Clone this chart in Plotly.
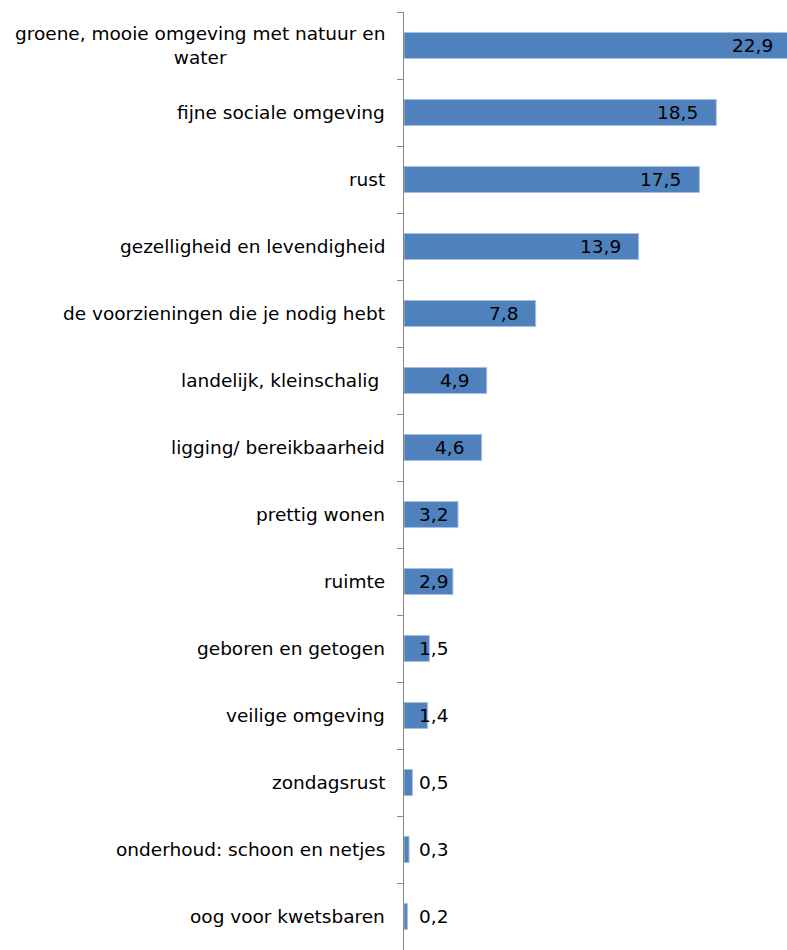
import plotly.graph_objects as go

categories = [
    "groene, mooie omgeving met natuur en<br>water",
    "fijne sociale omgeving",
    "rust",
    "gezelligheid en levendigheid",
    "de voorzieningen die je nodig hebt",
    "landelijk, kleinschalig\u00a0",
    "ligging/ bereikbaarheid",
    "prettig wonen",
    "ruimte",
    "geboren en getogen",
    "veilige omgeving",
    "zondagsrust",
    "onderhoud: schoon en netjes",
    "oog voor kwetsbaren",
]
values = [22.9, 18.5, 17.5, 13.9, 7.8, 4.9, 4.6, 3.2, 2.9, 1.5, 1.4, 0.5, 0.3, 0.2]
value_labels = ["22,9", "18,5", "17,5", "13,9", "7,8", "4,9", "4,6", "3,2", "2,9",
                "1,5", "1,4", "0,5", "0,3", "0,2"]

W, H = 787, 950
ML, MR, MT, MB = 404, 0, 12, 0
XMAX = 22.69
FONT = "DejaVu Sans, Verdana, sans-serif"
FS = 18.5

fig = go.Figure()
fig.add_trace(go.Bar(
    y=categories, x=values, orientation="h",
    marker=dict(color="#4F81BD", line=dict(color="#A9C0E0", width=1)),
    hoverinfo="skip",
))

k = (W - ML - MR) / XMAX  # px per unit
LABEL_PAD = 16
MIN_X = (46 + LABEL_PAD) / k

annotations = []
for c, v, t in zip(categories, values, value_labels):
    x = max(v, MIN_X)
    shift = -LABEL_PAD
    if x > XMAX:
        shift += (x - XMAX) * k
        x = XMAX
    annotations.append(dict(
        x=x, y=c, xref="x", yref="y", text=t, showarrow=False,
        xanchor="right", yanchor="middle", xshift=shift,
        font=dict(family=FONT, size=FS, color="#000000"),
    ))
    annotations.append(dict(
        x=0, y=c, xref="paper", yref="y", text=c, showarrow=False,
        xanchor="right", yanchor="middle", xshift=-17, align="center",
        font=dict(family=FONT, size=FS, color="#000000"),
    ))

fig.update_layout(
    width=W, height=H,
    margin=dict(l=ML, r=MR, t=MT, b=MB, pad=0),
    paper_bgcolor="white", plot_bgcolor="white",
    showlegend=False, bargap=0.61,
    font=dict(family=FONT, size=FS, color="#000000"),
    annotations=annotations,
    xaxis=dict(range=[0, XMAX], visible=False, showgrid=False, zeroline=False),
    yaxis=dict(
        categoryorder="array", categoryarray=categories, autorange="reversed",
        showline=True, linecolor="#868686", linewidth=1,
        ticks="outside", tickson="boundaries", ticklen=6, tickcolor="#868686",
        tickwidth=1, showticklabels=False, showgrid=False, zeroline=False,
    ),
)

fig.write_html(
    "out.html",
    config={"displayModeBar": False},
    post_script="document.body.style.margin='0px';document.body.style.overflow='hidden';",
)
